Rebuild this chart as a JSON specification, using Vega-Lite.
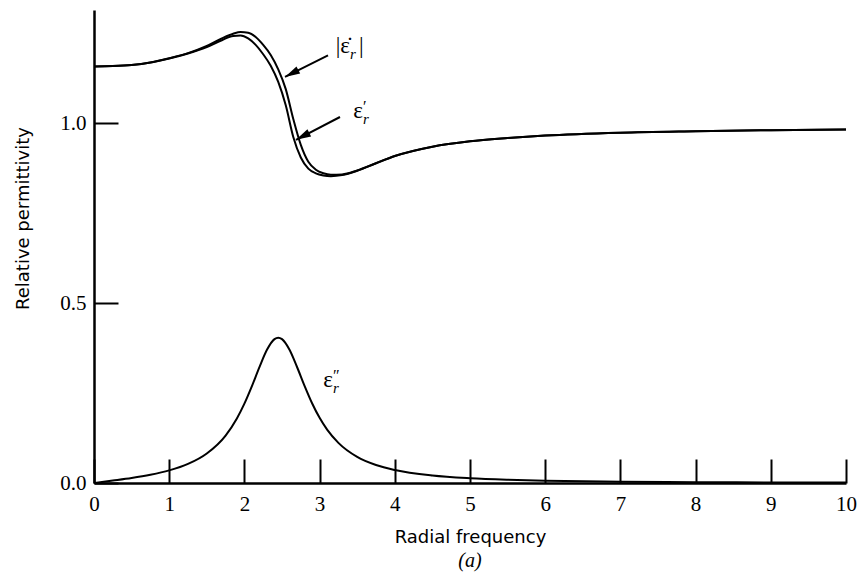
{
  "$schema": "https://vega.github.io/schema/vega-lite/v6.json",
  "width": 752,
  "height": 473,
  "autosize": "none",
  "padding": {"left": 94, "top": 10, "right": 13, "bottom": 94},
  "background": "white",
  "config": {"view": {"stroke": null}},
  "title": {"text": "(a)", "orient": "bottom", "anchor": "middle", "font": "Liberation Serif", "fontStyle": "italic", "fontSize": 20, "fontWeight": "normal", "color": "black", "offset": 5},
  "datasets": {
    "curves": [
      {"w": 0, "v": 1.158, "s": "re"}, {"w": 0.25, "v": 1.159, "s": "re"}, {"w": 0.5, "v": 1.162, "s": "re"}, {"w": 0.75, "v": 1.169, "s": "re"}, {"w": 1, "v": 1.18, "s": "re"}, {"w": 1.25, "v": 1.194, "s": "re"}, {"w": 1.5, "v": 1.212, "s": "re"}, {"w": 1.7, "v": 1.231, "s": "re"}, {"w": 1.85, "v": 1.243, "s": "re"}, {"w": 1.95, "v": 1.244, "s": "re"}, {"w": 2.05, "v": 1.236, "s": "re"}, {"w": 2.15, "v": 1.218, "s": "re"}, {"w": 2.25, "v": 1.192, "s": "re"}, {"w": 2.35, "v": 1.16, "s": "re"}, {"w": 2.45, "v": 1.115, "s": "re"}, {"w": 2.55, "v": 1.05, "s": "re"}, {"w": 2.65, "v": 0.962, "s": "re"}, {"w": 2.75, "v": 0.905, "s": "re"}, {"w": 2.85, "v": 0.874, "s": "re"}, {"w": 2.95, "v": 0.861, "s": "re"}, {"w": 3.05, "v": 0.855, "s": "re"}, {"w": 3.15, "v": 0.853, "s": "re"}, {"w": 3.3, "v": 0.856, "s": "re"}, {"w": 3.5, "v": 0.868, "s": "re"}, {"w": 3.75, "v": 0.889, "s": "re"}, {"w": 4, "v": 0.909, "s": "re"}, {"w": 4.5, "v": 0.935, "s": "re"}, {"w": 5, "v": 0.95, "s": "re"}, {"w": 5.5, "v": 0.959, "s": "re"}, {"w": 6, "v": 0.966, "s": "re"}, {"w": 7, "v": 0.974, "s": "re"}, {"w": 8, "v": 0.978, "s": "re"}, {"w": 9, "v": 0.981, "s": "re"}, {"w": 10, "v": 0.983, "s": "re"},
      {"w": 0, "v": 1.158, "s": "mag"}, {"w": 0.25, "v": 1.159, "s": "mag"}, {"w": 0.5, "v": 1.162, "s": "mag"}, {"w": 0.75, "v": 1.169, "s": "mag"}, {"w": 1, "v": 1.181, "s": "mag"}, {"w": 1.25, "v": 1.195, "s": "mag"}, {"w": 1.5, "v": 1.215, "s": "mag"}, {"w": 1.7, "v": 1.236, "s": "mag"}, {"w": 1.85, "v": 1.249, "s": "mag"}, {"w": 1.95, "v": 1.254, "s": "mag"}, {"w": 2.05, "v": 1.252, "s": "mag"}, {"w": 2.15, "v": 1.24, "s": "mag"}, {"w": 2.25, "v": 1.218, "s": "mag"}, {"w": 2.35, "v": 1.19, "s": "mag"}, {"w": 2.45, "v": 1.15, "s": "mag"}, {"w": 2.55, "v": 1.095, "s": "mag"}, {"w": 2.65, "v": 1.012, "s": "mag"}, {"w": 2.75, "v": 0.94, "s": "mag"}, {"w": 2.85, "v": 0.893, "s": "mag"}, {"w": 2.95, "v": 0.871, "s": "mag"}, {"w": 3.05, "v": 0.861, "s": "mag"}, {"w": 3.15, "v": 0.857, "s": "mag"}, {"w": 3.3, "v": 0.858, "s": "mag"}, {"w": 3.5, "v": 0.869, "s": "mag"}, {"w": 3.75, "v": 0.889, "s": "mag"}, {"w": 4, "v": 0.909, "s": "mag"}, {"w": 4.5, "v": 0.935, "s": "mag"}, {"w": 5, "v": 0.95, "s": "mag"}, {"w": 5.5, "v": 0.959, "s": "mag"}, {"w": 6, "v": 0.966, "s": "mag"}, {"w": 7, "v": 0.974, "s": "mag"}, {"w": 8, "v": 0.978, "s": "mag"}, {"w": 9, "v": 0.981, "s": "mag"}, {"w": 10, "v": 0.983, "s": "mag"},
      {"w": 0, "v": 0, "s": "im"}, {"w": 0.25, "v": 0.0067, "s": "im"}, {"w": 0.5, "v": 0.0138, "s": "im"}, {"w": 0.75, "v": 0.0228, "s": "im"}, {"w": 1, "v": 0.035, "s": "im"}, {"w": 1.25, "v": 0.0531, "s": "im"}, {"w": 1.5, "v": 0.0822, "s": "im"}, {"w": 1.75, "v": 0.132, "s": "im"}, {"w": 1.9, "v": 0.1796, "s": "im"}, {"w": 2.0, "v": 0.2207, "s": "im"}, {"w": 2.1, "v": 0.2694, "s": "im"}, {"w": 2.2, "v": 0.3222, "s": "im"}, {"w": 2.3, "v": 0.3703, "s": "im"}, {"w": 2.4, "v": 0.4, "s": "im"}, {"w": 2.45, "v": 0.404, "s": "im"}, {"w": 2.5, "v": 0.4, "s": "im"}, {"w": 2.6, "v": 0.3704, "s": "im"}, {"w": 2.7, "v": 0.3225, "s": "im"}, {"w": 2.8, "v": 0.2701, "s": "im"}, {"w": 2.9, "v": 0.2218, "s": "im"}, {"w": 3.0, "v": 0.1811, "s": "im"}, {"w": 3.1, "v": 0.1483, "s": "im"}, {"w": 3.25, "v": 0.1115, "s": "im"}, {"w": 3.5, "v": 0.0725, "s": "im"}, {"w": 3.75, "v": 0.0499, "s": "im"}, {"w": 4, "v": 0.036, "s": "im"}, {"w": 4.5, "v": 0.0208, "s": "im"}, {"w": 5, "v": 0.0133, "s": "im"}, {"w": 5.5, "v": 0.0091, "s": "im"}, {"w": 6, "v": 0.0065, "s": "im"}, {"w": 7, "v": 0.0037, "s": "im"}, {"w": 8, "v": 0.0024, "s": "im"}, {"w": 9, "v": 0.0016, "s": "im"}, {"w": 10, "v": 0.0011, "s": "im"}
    ],
    "arrows": [
      {"x1": 3.112, "y1": 1.189, "x2": 2.54, "y2": 1.129},
      {"x1": 3.271, "y1": 1.0175, "x2": 2.686, "y2": 0.954}
    ],
    "labels": [
      {"lx": 3.404, "ly": 1.195, "main": "|ε̇", "sup": "", "sub": "r", "post": "|"},
      {"lx": 3.577, "ly": 1.015, "main": "ε", "sup": "′", "sub": "r", "post": ""},
      {"lx": 3.178, "ly": 0.268, "main": "ε", "sup": "″", "sub": "r", "post": ""}
    ]
  },
  "layer": [
    {
      "data": {"name": "curves"},
      "mark": {"type": "line", "color": "black", "strokeWidth": 2, "interpolate": "monotone"},
      "encoding": {
        "x": {"field": "w", "type": "quantitative", "scale": {"domain": [0, 10], "nice": false, "zero": false},
          "axis": {"values": [0, 1, 2, 3, 4, 5, 6, 7, 8, 9, 10], "format": "d", "tickSize": -24, "tickWidth": 2, "tickColor": "black", "domainColor": "black", "domainWidth": 2.5, "labelFont": "Liberation Serif", "labelFontSize": 21, "labelColor": "black", "labelPadding": 34, "labelFlush": false, "grid": false, "title": "Radial frequency", "titleFont": "DejaVu Sans", "titleFontSize": 18, "titleFontWeight": "normal", "titleColor": "black", "titleY": 59, "titleBaseline": "alphabetic"}},
        "y": {"field": "v", "type": "quantitative", "scale": {"domain": [0, 1.315], "nice": false},
          "axis": {"values": [0, 0.5, 1], "format": ".1f", "tickSize": -24, "tickWidth": 2, "tickColor": "black", "domainColor": "black", "domainWidth": 2.5, "labelFont": "Liberation Serif", "labelFontSize": 21, "labelColor": "black", "labelPadding": 32, "grid": false, "title": "Relative permittivity", "titleFont": "DejaVu Sans", "titleFontSize": 18, "titleFontWeight": "normal", "titleColor": "black", "titleX": -71, "titleY": 208, "titleBaseline": "middle", "titleAlign": "center"}},
        "detail": {"field": "s"}
      }
    },
    {
      "data": {"name": "arrows"},
      "mark": {"type": "rule", "color": "black", "strokeWidth": 2},
      "encoding": {
        "x": {"field": "x1", "type": "quantitative"},
        "y": {"field": "y1", "type": "quantitative"},
        "x2": {"field": "x2"},
        "y2": {"field": "y2"}
      }
    },
    {
      "data": {"name": "arrows"},
      "mark": {"type": "point", "shape": "M0,0 L0.27,1 L-0.27,1 Z", "size": 900, "angle": 242.6, "filled": true, "color": "black", "opacity": 1, "strokeWidth": 0},
      "encoding": {
        "x": {"field": "x2", "type": "quantitative"},
        "y": {"field": "y2", "type": "quantitative"}
      }
    },
    {
      "data": {"name": "labels"},
      "mark": {"type": "text", "font": "Liberation Serif", "fontSize": 23, "align": "right", "baseline": "alphabetic", "color": "black"},
      "encoding": {
        "x": {"field": "lx", "type": "quantitative"},
        "y": {"field": "ly", "type": "quantitative"},
        "text": {"field": "main"}
      }
    },
    {
      "data": {"name": "labels"},
      "mark": {"type": "text", "font": "Liberation Serif", "fontSize": 16, "align": "left", "baseline": "alphabetic", "dx": 0, "dy": -6, "color": "black"},
      "encoding": {
        "x": {"field": "lx", "type": "quantitative"},
        "y": {"field": "ly", "type": "quantitative"},
        "text": {"field": "sup"}
      }
    },
    {
      "data": {"name": "labels"},
      "mark": {"type": "text", "font": "Liberation Serif", "fontStyle": "italic", "fontSize": 15, "align": "left", "baseline": "alphabetic", "dx": 0, "dy": 6, "color": "black"},
      "encoding": {
        "x": {"field": "lx", "type": "quantitative"},
        "y": {"field": "ly", "type": "quantitative"},
        "text": {"field": "sub"}
      }
    },
    {
      "data": {"name": "labels"},
      "mark": {"type": "text", "font": "Liberation Serif", "fontSize": 23, "align": "left", "baseline": "alphabetic", "dx": 9, "dy": 0, "color": "black"},
      "encoding": {
        "x": {"field": "lx", "type": "quantitative"},
        "y": {"field": "ly", "type": "quantitative"},
        "text": {"field": "post"}
      }
    }
  ]
}
